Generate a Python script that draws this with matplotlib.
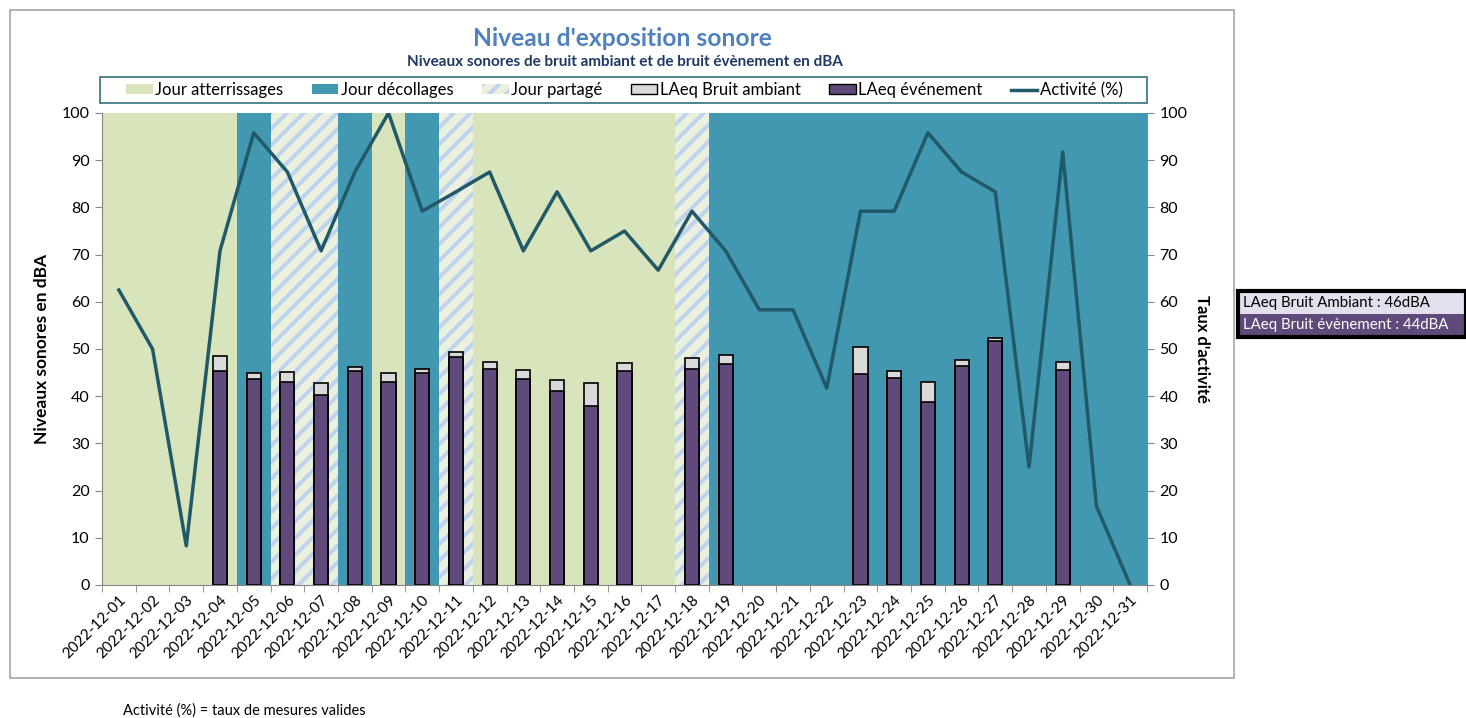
import matplotlib
matplotlib.use("Agg")
import matplotlib.pyplot as plt
import matplotlib.patches as mpatches
from matplotlib.lines import Line2D
import numpy as np

plt.rcParams['font.family'] = ['Lato', 'DejaVu Sans']
plt.rcParams['hatch.linewidth'] = 2.8

dates = [f"2022-12-{d:02d}" for d in range(1, 32)]
# A = atterrissages, D = décollages, P = partagé
day_type = ['A', 'A', 'A', 'A', 'D', 'P', 'P', 'D', 'A', 'D', 'P',
            'A', 'A', 'A', 'A', 'A', 'A', 'P', 'D', 'D', 'D', 'D',
            'D', 'D', 'D', 'D', 'D', 'D', 'D', 'D', 'D']
nan = np.nan
laeq_ambiant = [nan, nan, nan, 48.5, 44.9, 45.1, 42.8, 46.2, 44.9, 45.8, 49.4,
                47.2, 45.6, 43.4, 42.8, 47.0, nan, 48.1, 48.7, nan, nan, nan,
                50.4, 45.3, 43.0, 47.7, 52.3, nan, 47.2, nan, nan]
laeq_event = [nan, nan, nan, 45.3, 43.6, 43.0, 40.3, 45.3, 43.0, 44.9, 48.3,
              45.8, 43.6, 41.1, 37.9, 45.3, nan, 45.8, 46.8, nan, nan, nan,
              44.7, 43.9, 38.8, 46.4, 51.7, nan, 45.6, nan, nan]
activite = [62.5, 50.0, 8.3, 70.8, 95.8, 87.5, 70.8, 87.5, 100.0, 79.2, 83.3,
            87.5, 70.8, 83.3, 70.8, 75.0, 66.7, 79.2, 70.8, 58.3, 58.3, 41.7,
            79.2, 79.2, 95.8, 87.5, 83.3, 25.0, 91.7, 16.7, 0.0]

C_GREEN = '#D8E4BC'
C_TEAL = '#4298B0'
C_HATCH_BG = '#EBF1DE'
C_HATCH = '#BDD3EE'
C_GRAY = '#D9D9D9'
C_PURPLE = '#604A7B'
C_LINE = '#215968'
C_AXIS = '#868686'

W, H = 1466, 718
fig = plt.figure(figsize=(W / 100, H / 100), dpi=100)

# outer chart frame
fig.patches.append(mpatches.Rectangle((10 / W, 1 - 678 / H), (1234 - 10) / W, (678 - 10) / H,
                                      transform=fig.transFigure, fill=False,
                                      edgecolor='#A6A6A6', linewidth=1.2))
# legend frame
fig.patches.append(mpatches.Rectangle((100 / W, 1 - 103 / H), (1147 - 100) / W, (103 - 77) / H,
                                      transform=fig.transFigure, facecolor='white',
                                      edgecolor='#31707F', linewidth=1.2))

ax = fig.add_axes([102 / W, 1 - 585 / H, (1147 - 102) / W, (585 - 113) / H])
x = np.arange(len(dates))
tarr = np.array(day_type)

for t, fc, hatch in [('A', C_GREEN, None), ('D', C_TEAL, None), ('P', C_HATCH_BG, '//')]:
    m = tarr == t
    if hatch:
        ax.bar(x[m], np.full(m.sum(), 100.0), width=1.0, color=C_HATCH_BG, hatch=hatch,
               edgecolor=C_HATCH, linewidth=0, zorder=0)
    else:
        ax.bar(x[m], np.full(m.sum(), 100.0), width=1.0, color=fc, linewidth=0, zorder=0)

bw = 0.42
ax.bar(x, laeq_ambiant, width=bw, color=C_GRAY, edgecolor='black', linewidth=1.2, zorder=2)
ax.bar(x, laeq_event, width=bw, color=C_PURPLE, edgecolor='black', linewidth=1.2, zorder=3)

ax.set_xlim(-0.5, len(dates) - 0.5)
ax.set_ylim(0, 100)
ax.set_yticks(np.arange(0, 101, 10))
ax.set_xticks(x)
ax.set_xticklabels(dates, rotation=45, ha='right', va='top', rotation_mode='anchor', fontsize=11)
ax.set_xticks(np.arange(-0.5, len(dates), 1.0), minor=True)
ax.tick_params(axis='x', which='major', length=0, pad=6)
ax.tick_params(axis='x', which='minor', length=5, color=C_AXIS, direction='out')
ax.tick_params(axis='y', length=5, color=C_AXIS, labelsize=11.5, pad=4)
for s in ['top', 'right']:
    ax.spines[s].set_visible(False)
for s in ['left', 'bottom']:
    ax.spines[s].set_color(C_AXIS)
ax.set_ylabel("Niveaux sonores en dBA", fontsize=12.5, fontweight='bold', labelpad=8)

ax2 = ax.twinx()
ax2.plot(x, activite, color=C_LINE, linewidth=2.5, zorder=5)
ax2.set_ylim(0, 100)
ax2.set_yticks(np.arange(0, 101, 10))
ax2.tick_params(axis='y', length=5, color=C_AXIS, labelsize=11.5, pad=4)
for s in ['top', 'left', 'bottom']:
    ax2.spines[s].set_visible(False)
ax2.spines['right'].set_color(C_AXIS)
ax2.set_ylabel("Taux d'activité", fontsize=12, fontweight='bold', rotation=-90, labelpad=16)

# titles
fig.text(622 / W, 1 - 38 / H, "Niveau d'exposition sonore", ha='center', va='center',
         fontsize=17.7, fontweight='bold', color='#4F81BD')
fig.text(625 / W, 1 - 62 / H, "Niveaux sonores de bruit ambiant et de bruit évènement en dBA",
         ha='center', va='center', fontsize=11, fontweight='bold', color='#1F3864')

# legend
handles = [
    mpatches.Patch(facecolor=C_GREEN, edgecolor='none', label='Jour atterrissages'),
    mpatches.Patch(facecolor=C_TEAL, edgecolor='none', label='Jour décollages'),
    mpatches.Patch(facecolor=C_HATCH_BG, edgecolor=C_HATCH, hatch='//', linewidth=0, label='Jour partagé'),
    mpatches.Patch(facecolor=C_GRAY, edgecolor='black', linewidth=1, label='LAeq Bruit ambiant'),
    mpatches.Patch(facecolor=C_PURPLE, edgecolor='black', linewidth=1, label='LAeq événement'),
    Line2D([0], [0], color=C_LINE, linewidth=2.5, label='Activité (%)'),
]
leg = fig.legend(handles=handles, loc='center',
                 bbox_to_anchor=(624.5 / W, 1 - 90 / H),
                 ncol=6, fontsize=12, frameon=False,
                 borderpad=0.0, handlelength=1.6, handleheight=0.5, handletextpad=0.15,
                 columnspacing=1.7, borderaxespad=0)

# right-side info box
bx = fig.add_axes([1238 / W, 1 - 337 / H, (1466 - 1238) / W, (337 - 291) / H])
bx.set_xlim(0, 1)
bx.set_ylim(0, 2)
bx.axis('off')
bx.add_patch(mpatches.Rectangle((0, 1), 1, 1, facecolor='#E4DFEC', edgecolor='none'))
bx.add_patch(mpatches.Rectangle((0, 0), 1, 1, facecolor=C_PURPLE, edgecolor='none'))
bx.add_patch(mpatches.Rectangle((0, 0), 1, 2, facecolor='none', edgecolor='black', linewidth=3,
                                clip_on=False))
bx.text(0.02, 1.5, "LAeq Bruit Ambiant : 46dBA", va='center', ha='left', fontsize=10.8, color='black')
bx.text(0.02, 0.5, "LAeq Bruit évènement : 44dBA", va='center', ha='left', fontsize=10.8, color='white')

# footnote
fig.text(123 / W, 1 - 711 / H, "Activité (%) = taux de mesures valides", ha='left', va='center',
         fontsize=10.5, color='black')

fig.savefig("out.png", dpi=100)
